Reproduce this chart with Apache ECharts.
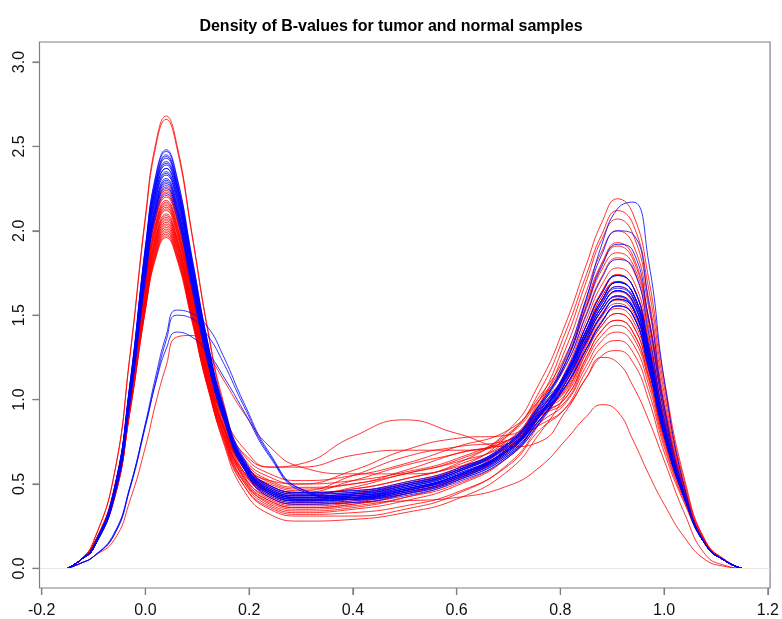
<!DOCTYPE html>
<html><head><meta charset="utf-8">
<script src="https://cdn.jsdelivr.net/npm/echarts@6/dist/echarts.min.js"></script>
<style>html,body{margin:0;padding:0;background:#fff}#c{width:782px;height:619px}</style>
</head><body><div id="c"></div>
<script>
// Common x grid where each density curve was read
const xGrid = [-0.15,-0.125,-0.1,-0.06,-0.03,0.0,0.02,0.04,0.06,0.09,0.12,0.15,0.19,0.24,0.3,0.4,0.5,0.6,0.7,0.76,0.81,0.85,0.88,0.91,0.94,0.97,1.0,1.04,1.08,1.12,1.15];
const xTickValues = [-0.2,0.0,0.2,0.4,0.6,0.8,1.0,1.2];
const yTickValues = [0.0,0.5,1.0,1.5,2.0,2.5,3.0];
const xRange = [-0.2042, 1.2042];
const yRange = [-0.1163, 3.1187];
const titleText = "Density of B-values for tumor and normal samples";

// Tumor samples (red)
const tumorCurves = [
 [0,0.05,0.16,0.56,1.26,2.09,2.52,2.68,2.52,1.98,1.42,0.99,0.62,0.44,0.40,0.42,0.47,0.55,0.71,0.92,1.05,1.30,1.47,1.54,1.47,1.19,0.80,0.42,0.15,0.04,0],
 [0,0.05,0.16,0.56,1.25,2.07,2.50,2.66,2.50,1.97,1.41,0.97,0.61,0.42,0.38,0.40,0.45,0.53,0.69,0.90,1.01,1.25,1.41,1.47,1.40,1.14,0.77,0.41,0.15,0.04,0],
 [0,0.05,0.14,0.48,1.07,1.77,2.13,2.27,2.13,1.68,1.22,0.90,0.62,0.49,0.45,0.47,0.53,0.62,0.82,1.10,1.45,1.80,2.05,2.19,2.10,1.72,1.12,0.52,0.16,0.045,0],
 [0,0.05,0.14,0.47,1.05,1.75,2.11,2.24,2.11,1.66,1.21,0.88,0.59,0.46,0.42,0.44,0.50,0.59,0.79,1.05,1.40,1.74,1.98,2.12,2.04,1.66,1.08,0.50,0.16,0.045,0],
 [0,0.05,0.14,0.46,1.04,1.72,2.08,2.21,2.08,1.64,1.19,0.84,0.54,0.40,0.36,0.38,0.44,0.54,0.74,1.00,1.35,1.70,1.95,2.07,1.98,1.60,1.04,0.48,0.15,0.04,0],
 [0,0.05,0.14,0.46,1.02,1.70,2.05,2.18,2.05,1.62,1.18,0.82,0.53,0.38,0.34,0.36,0.42,0.52,0.71,0.97,1.30,1.64,1.88,2.00,1.92,1.55,1.00,0.47,0.15,0.04,0],
 [0,0.05,0.14,0.45,1.02,1.68,2.03,2.16,2.03,1.61,1.17,0.89,0.65,0.54,0.50,0.52,0.57,0.65,0.80,1.02,1.26,1.58,1.81,1.93,1.85,1.49,0.97,0.46,0.15,0.04,0],
 [0,0.05,0.14,0.45,1.01,1.67,2.01,2.14,2.01,1.59,1.16,0.88,0.62,0.51,0.47,0.50,0.56,0.64,0.79,1.00,1.24,1.56,1.80,1.91,1.83,1.48,0.96,0.46,0.15,0.04,0],
 [0,0.05,0.14,0.45,1.00,1.65,1.99,2.12,1.99,1.58,1.15,0.80,0.51,0.37,0.33,0.35,0.40,0.49,0.66,0.90,1.17,1.47,1.68,1.78,1.71,1.38,0.90,0.44,0.15,0.04,0],
 [0,0.05,0.14,0.44,0.99,1.64,1.97,2.10,1.97,1.56,1.14,0.85,0.60,0.48,0.44,0.47,0.53,0.61,0.76,0.97,1.15,1.44,1.64,1.74,1.67,1.35,0.88,0.44,0.15,0.04,0],
 [0,0.05,0.13,0.44,0.98,1.62,1.96,2.08,1.96,1.55,1.13,0.78,0.49,0.35,0.31,0.31,0.35,0.44,0.62,0.86,1.13,1.41,1.61,1.70,1.63,1.32,0.87,0.44,0.15,0.04,0],
 [0,0.05,0.13,0.43,0.97,1.61,1.94,2.06,1.94,1.53,1.12,0.91,0.71,0.60,0.60,0.67,0.70,0.70,0.74,0.88,1.10,1.37,1.55,1.64,1.57,1.27,0.84,0.43,0.15,0.04,0],
 [0,0.05,0.13,0.43,0.96,1.60,1.93,2.05,1.93,1.53,1.11,0.81,0.56,0.44,0.40,0.44,0.50,0.58,0.72,0.91,1.07,1.33,1.51,1.59,1.52,1.23,0.82,0.42,0.15,0.04,0],
 [0,0.05,0.13,0.43,0.95,1.58,1.91,2.03,1.91,1.51,1.10,0.75,0.46,0.32,0.28,0.29,0.33,0.41,0.58,0.80,1.03,1.28,1.44,1.51,1.44,1.17,0.79,0.41,0.15,0.04,0],
 [0,0.05,0.13,0.42,0.94,1.57,1.89,2.01,1.89,1.50,1.10,0.86,0.68,0.60,0.62,0.78,0.88,0.80,0.72,0.75,0.93,1.13,1.25,1.22,1.08,0.88,0.64,0.32,0.08,0.015,0],
 [0,0.05,0.13,0.42,0.94,1.55,1.87,1.99,1.87,1.48,1.08,0.79,0.54,0.42,0.38,0.39,0.40,0.42,0.49,0.60,0.76,0.90,0.97,0.93,0.76,0.56,0.38,0.18,0.05,0.01,0],
 [0,0.05,0.13,0.41,0.93,1.54,1.85,1.97,1.85,1.47,1.08,0.83,0.62,0.52,0.50,0.58,0.70,0.77,0.79,0.92,1.01,1.25,1.41,1.47,1.40,1.14,0.77,0.41,0.15,0.04,0],
 [0,0.05,0.13,0.41,0.92,1.53,1.84,1.96,1.84,1.46,1.07,0.77,0.51,0.39,0.35,0.37,0.42,0.50,0.66,0.86,0.98,1.20,1.35,1.40,1.33,1.09,0.74,0.40,0.15,0.04,0],
 [0,0.05,0.14,0.46,1.03,1.72,2.07,2.20,2.07,1.63,1.19,0.92,0.67,0.56,0.52,0.55,0.62,0.72,0.82,1.00,1.20,1.51,1.73,1.84,1.77,1.43,0.93,0.45,0.15,0.04,0],
 [0,0.05,0.14,0.45,1.01,1.68,2.02,2.15,2.02,1.60,1.16,0.83,0.55,0.41,0.37,0.39,0.45,0.53,0.70,0.92,1.11,1.39,1.58,1.67,1.60,1.30,0.86,0.43,0.15,0.04,0],
 [0,0.05,0.13,0.44,0.98,1.63,1.96,2.09,1.96,1.55,1.13,0.84,0.59,0.47,0.43,0.48,0.56,0.63,0.74,0.92,1.08,1.35,1.53,1.61,1.54,1.25,0.83,0.43,0.15,0.04,0],
 [0,0.05,0.13,0.42,0.95,1.58,1.90,2.02,1.90,1.50,1.10,0.84,0.60,0.50,0.46,0.55,0.66,0.72,0.76,0.85,0.95,1.13,1.26,1.29,1.22,1.00,0.69,0.38,0.14,0.04,0],
 [0,0.05,0.13,0.42,0.94,1.56,1.88,2.00,1.88,1.49,1.09,0.76,0.49,0.36,0.32,0.33,0.37,0.45,0.61,0.82,0.95,1.17,1.31,1.35,1.28,1.05,0.72,0.39,0.14,0.04,0],
 [0,0.03,0.07,0.17,0.40,0.72,0.98,1.20,1.37,1.38,1.27,1.12,0.92,0.72,0.60,0.56,0.56,0.60,0.72,0.90,0.99,1.23,1.38,1.44,1.37,1.12,0.76,0.41,0.15,0.04,0],
 [0,0.05,0.14,0.47,1.05,1.74,2.10,2.23,2.10,1.66,1.20,0.86,0.57,0.43,0.39,0.41,0.46,0.54,0.70,0.91,1.08,1.35,1.53,1.61,1.54,1.25,0.83,0.43,0.15,0.04,0],
 [0,0.05,0.14,0.45,1.00,1.66,2.00,2.13,2.00,1.58,1.15,0.84,0.57,0.45,0.41,0.43,0.49,0.57,0.73,0.94,1.13,1.41,1.61,1.70,1.63,1.32,0.87,0.44,0.15,0.04,0],
 [0,0.05,0.13,0.43,0.97,1.61,1.95,2.07,1.95,1.54,1.12,0.85,0.60,0.49,0.45,0.52,0.61,0.68,0.76,0.92,1.06,1.32,1.49,1.57,1.50,1.21,0.81,0.42,0.15,0.04,0],
 [0,0.05,0.13,0.43,0.96,1.59,1.92,2.04,1.92,1.52,1.11,0.79,0.52,0.40,0.36,0.38,0.44,0.53,0.72,0.98,1.22,1.54,1.77,1.87,1.80,1.46,0.95,0.45,0.15,0.04,0],
 [0,0.05,0.13,0.42,0.93,1.54,1.86,1.98,1.86,1.48,1.08,0.80,0.57,0.46,0.42,0.45,0.51,0.59,0.74,0.95,1.15,1.44,1.64,1.74,1.67,1.35,0.88,0.44,0.15,0.04,0],
 [0,0.05,0.14,0.46,1.02,1.69,2.04,2.17,2.04,1.61,1.17,0.89,0.64,0.52,0.48,0.50,0.58,0.68,0.76,0.93,1.03,1.28,1.44,1.51,1.44,1.17,0.79,0.41,0.15,0.04,0]
];

// Normal samples (blue)
const normalCurves = [
 [0,0.05,0.13,0.47,1.09,1.91,2.33,2.48,2.33,1.84,1.34,0.96,0.63,0.46,0.42,0.43,0.47,0.55,0.71,0.92,1.14,1.38,1.55,1.645,1.58,1.25,0.82,0.42,0.14,0.04,0],
 [0,0.05,0.13,0.47,1.09,1.90,2.32,2.47,2.32,1.83,1.34,0.97,0.65,0.48,0.44,0.45,0.49,0.57,0.72,0.93,1.15,1.41,1.59,1.695,1.63,1.29,0.84,0.42,0.14,0.04,0],
 [0,0.05,0.13,0.47,1.08,1.89,2.30,2.45,2.30,1.81,1.33,0.95,0.62,0.45,0.41,0.42,0.46,0.54,0.69,0.90,1.10,1.34,1.50,1.595,1.54,1.22,0.80,0.41,0.14,0.04,0],
 [0,0.05,0.13,0.46,1.07,1.87,2.28,2.43,2.28,1.80,1.32,0.95,0.63,0.47,0.43,0.44,0.48,0.56,0.71,0.93,1.16,1.44,1.63,1.735,1.67,1.32,0.85,0.42,0.14,0.04,0],
 [0,0.05,0.13,0.46,1.06,1.86,2.27,2.41,2.27,1.79,1.31,0.93,0.60,0.44,0.40,0.41,0.45,0.53,0.68,0.88,1.08,1.30,1.46,1.555,1.50,1.19,0.79,0.41,0.14,0.04,0],
 [0,0.05,0.13,0.45,1.05,1.84,2.25,2.39,2.25,1.77,1.30,0.94,0.62,0.46,0.42,0.43,0.48,0.57,0.74,0.97,1.22,1.60,1.92,2.13,2.17,1.82,1.12,0.47,0.14,0.04,0],
 [0,0.05,0.12,0.45,1.04,1.82,2.23,2.37,2.23,1.76,1.29,0.95,0.64,0.49,0.45,0.46,0.50,0.58,0.73,0.94,1.14,1.38,1.55,1.645,1.58,1.25,0.82,0.42,0.14,0.04,0],
 [0,0.05,0.12,0.45,1.03,1.81,2.21,2.35,2.21,1.74,1.28,0.92,0.61,0.45,0.41,0.42,0.46,0.55,0.71,0.91,1.15,1.41,1.59,1.695,1.63,1.29,0.84,0.42,0.14,0.04,0],
 [0,0.05,0.12,0.44,1.03,1.79,2.19,2.33,2.19,1.73,1.27,0.92,0.62,0.47,0.43,0.44,0.49,0.57,0.73,0.95,1.25,1.60,1.86,2.00,1.98,1.58,0.96,0.44,0.14,0.04,0],
 [0,0.05,0.12,0.44,1.02,1.78,2.17,2.31,2.17,1.71,1.26,0.91,0.59,0.43,0.39,0.40,0.44,0.52,0.67,0.88,1.10,1.34,1.50,1.595,1.54,1.22,0.80,0.41,0.14,0.04,0],
 [0,0.05,0.12,0.44,1.01,1.77,2.16,2.30,2.16,1.71,1.25,0.92,0.62,0.48,0.44,0.45,0.50,0.58,0.74,0.96,1.20,1.50,1.72,1.83,1.78,1.40,0.88,0.43,0.14,0.04,0],
 [0,0.05,0.12,0.43,1.00,1.76,2.14,2.28,2.14,1.69,1.24,0.91,0.61,0.46,0.42,0.43,0.47,0.55,0.70,0.90,1.08,1.30,1.46,1.555,1.50,1.19,0.79,0.41,0.14,0.04,0],
 [0,0.05,0.12,0.43,0.99,1.74,2.12,2.26,2.12,1.68,1.23,0.89,0.59,0.44,0.40,0.41,0.46,0.54,0.70,0.91,1.16,1.44,1.63,1.735,1.67,1.32,0.85,0.42,0.14,0.04,0],
 [0,0.05,0.12,0.43,0.99,1.73,2.12,2.25,2.12,1.67,1.23,0.90,0.62,0.47,0.43,0.44,0.49,0.58,0.75,0.97,1.22,1.55,1.79,1.92,1.88,1.48,0.92,0.43,0.14,0.04,0],
 [0,0.05,0.12,0.45,1.04,1.82,2.23,2.37,2.23,1.76,1.29,0.92,0.59,0.42,0.38,0.39,0.43,0.51,0.66,0.87,1.14,1.38,1.55,1.645,1.58,1.25,0.82,0.42,0.14,0.04,0],
 [0,0.05,0.12,0.42,0.98,1.71,2.09,2.22,2.09,1.65,1.22,0.90,0.63,0.49,0.45,0.46,0.51,0.59,0.74,0.95,1.15,1.41,1.59,1.695,1.63,1.29,0.84,0.42,0.14,0.04,0],
 [0,0.05,0.13,0.46,1.06,1.85,2.26,2.40,2.26,1.78,1.30,0.93,0.61,0.45,0.41,0.42,0.47,0.55,0.70,0.91,1.13,1.39,1.57,1.67,1.61,1.27,0.83,0.42,0.14,0.04,0],
 [0,0.05,0.12,0.44,1.03,1.80,2.20,2.34,2.20,1.73,1.27,0.92,0.62,0.46,0.42,0.43,0.48,0.56,0.71,0.92,1.12,1.36,1.53,1.615,1.55,1.23,0.81,0.41,0.14,0.04,0],
 [0,0.05,0.13,0.46,1.07,1.88,2.29,2.44,2.29,1.81,1.32,0.94,0.61,0.44,0.40,0.41,0.46,0.54,0.69,0.90,1.12,1.36,1.53,1.615,1.55,1.23,0.81,0.41,0.14,0.04,0],
 [0,0.05,0.12,0.44,1.01,1.76,2.15,2.29,2.15,1.70,1.25,0.90,0.60,0.45,0.41,0.42,0.47,0.55,0.70,0.91,1.13,1.39,1.57,1.66,1.60,1.26,0.83,0.42,0.14,0.04,0],
 [0,0.03,0.07,0.20,0.48,0.86,1.14,1.38,1.53,1.51,1.43,1.26,0.98,0.68,0.47,0.41,0.44,0.52,0.67,0.86,1.10,1.34,1.50,1.595,1.54,1.22,0.80,0.41,0.14,0.04,0],
 [0,0.03,0.07,0.20,0.47,0.84,1.11,1.35,1.50,1.48,1.38,1.22,0.96,0.67,0.47,0.42,0.46,0.55,0.70,0.90,1.15,1.41,1.59,1.695,1.63,1.29,0.84,0.42,0.14,0.04,0],
 [0,0.03,0.07,0.21,0.48,0.85,1.10,1.30,1.40,1.37,1.28,1.14,0.93,0.66,0.46,0.41,0.45,0.53,0.68,0.88,1.08,1.30,1.46,1.555,1.50,1.19,0.79,0.41,0.14,0.04,0]
];

const chart = echarts.init(document.getElementById('c'), null, {renderer: 'canvas'});
function toSeries(curves, color, name) {
  return curves.map(vals => ({
    name: name, type: 'line', smooth: 0.5, symbol: 'none', silent: true,
    lineStyle: {color: color, width: 1, opacity: 0.8},
    data: vals.map((v, k) => [xGrid[k], v]),
    z: 3
  }));
}
const series = toSeries(tumorCurves, '#ff0000', 'tumor').concat(toSeries(normalCurves, '#0000ff', 'normal'));
series.push({
  type: 'line', data: [], silent: true, symbol: 'none',
  markLine: {silent: true, symbol: 'none', label: {show: false},
    lineStyle: {color: '#e6e6e6', width: 1, type: 'solid'}, data: [{yAxis: 0}]}
});
const fmt = v => Number(v).toFixed(1);
const font = 'Liberation Sans, Arial, sans-serif';
const axisGray = '#808080';
chart.setOption({
  animation: false,
  backgroundColor: '#ffffff',
  title: {text: titleText, left: 'center', top: 14,
    textStyle: {fontFamily: font, fontWeight: 'bold', fontSize: 16, color: '#000'}},
  grid: {left: 39.5, right: 9.5, top: 42, bottom: 29, show: true, borderColor: axisGray, borderWidth: 1.2, backgroundColor: 'transparent'},
  xAxis: {type: 'value', position: 'bottom', min: xRange[0], max: xRange[1],
    axisLine: {show: false, onZero: false}, splitLine: {show: false},
    axisTick: {show: true, length: 7, customValues: xTickValues, lineStyle: {color: axisGray, width: 1.2}},
    axisLabel: {formatter: fmt, fontSize: 16, color: '#111', margin: 15, fontFamily: font, customValues: xTickValues}},
  yAxis: {type: 'value', position: 'left', min: yRange[0], max: yRange[1],
    axisLine: {show: false, onZero: false}, splitLine: {show: false},
    axisTick: {show: true, length: 7, customValues: yTickValues, lineStyle: {color: axisGray, width: 1.2}},
    axisLabel: {formatter: fmt, fontSize: 16, color: '#111', rotate: 90, margin: 12, fontFamily: font, customValues: yTickValues}},
  series: series
});

// Tick marks placed through the chart's own scales
const tickLen = 7;
const tickEls = [];
xTickValues.forEach(v => {
  const p = chart.convertToPixel({gridIndex: 0}, [v, yRange[0]]);
  tickEls.push({type: 'line', silent: true, z: 20,
    shape: {x1: p[0], y1: p[1], x2: p[0], y2: p[1] + tickLen},
    style: {stroke: axisGray, lineWidth: 1.2}});
});
yTickValues.forEach(v => {
  const p = chart.convertToPixel({gridIndex: 0}, [xRange[0], v]);
  tickEls.push({type: 'line', silent: true, z: 20,
    shape: {x1: p[0] - tickLen, y1: p[1], x2: p[0], y2: p[1]},
    style: {stroke: axisGray, lineWidth: 1.2}});
});
chart.setOption({graphic: tickEls});
</script></body></html>
